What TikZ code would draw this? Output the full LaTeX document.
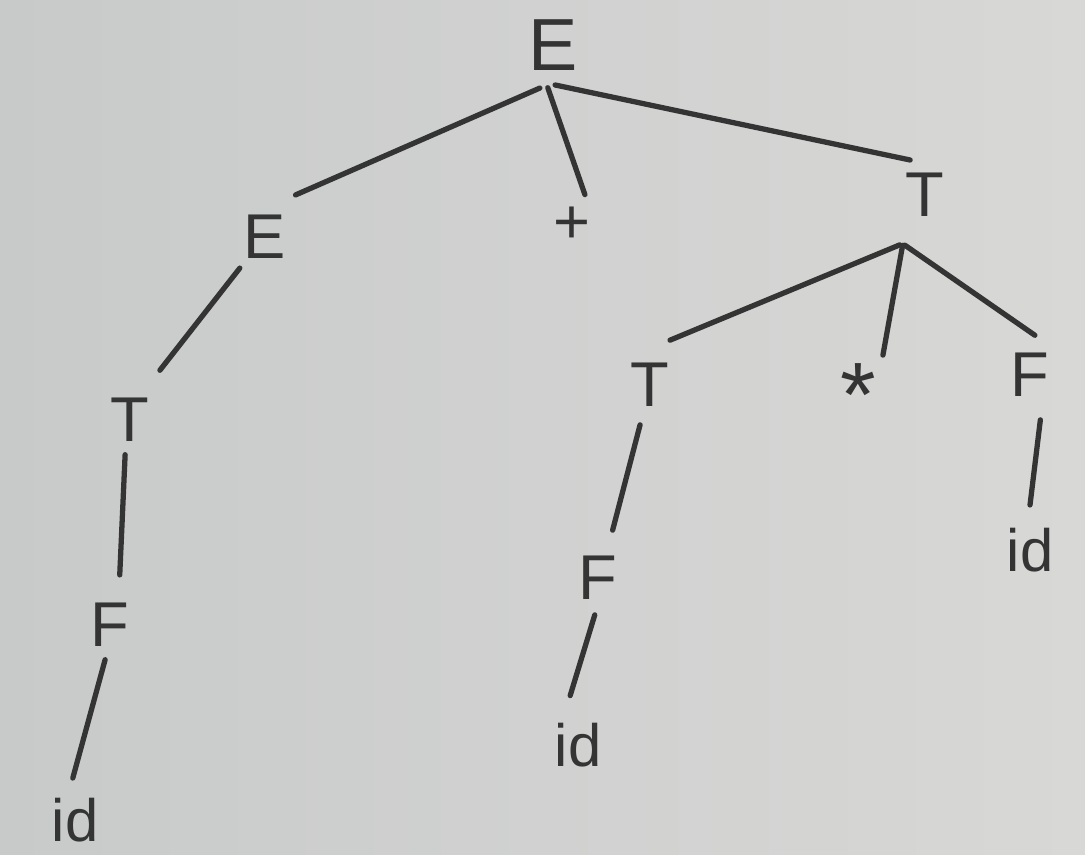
\documentclass[tikz,border=0pt]{standalone}
\usepackage{fontspec}
\setmainfont{Liberation Sans}
\usetikzlibrary{calc}
\definecolor{ink}{RGB}{52,52,52}
\definecolor{paperL}{RGB}{200,202,202}
\definecolor{paperR}{RGB}{216,216,214}
\begin{document}
\begin{tikzpicture}[x=0.01cm,y=-0.01cm,
  sym/.style={inner sep=0pt,text=ink,font=\fontsize{18}{20}\selectfont},
  leaf/.style={inner sep=0pt,text=ink,font=\fontsize{17}{20}\selectfont},
  edge/.style={draw=ink,line width=1.5pt,line cap=round}]
\fill[left color=paperL,right color=paperR] (0,0) rectangle (1085,854);
\useasboundingbox (0,0) rectangle (1085,854);
% nodes
\node[sym,font=\fontsize{21}{24}\selectfont] (rootE) at (553,45) {E};
\node[sym] (leftE) at (265,237) {E};
\node[sym] (plus) at (572,225) {+};
\node[sym] (rightT) at (925,195) {T};
\node[sym] (lT) at (130,420) {T};
\node[sym] (lF) at (110,625) {F};
\node[leaf] (lid) at (75,820) {id};
\node[sym] (mT) at (650,385) {T};
\node[sym,font=\fontsize{26}{28}\selectfont] (star) at (858,395) {*};
\node[sym] (rF) at (1030,375) {F};
\node[sym] (mF) at (598,578) {F};
\node[leaf] (mid) at (578,745) {id};
\node[leaf] (rid) at (1030,550) {id};
% edges
\draw[edge] ($(rootE)+(-107:0.45cm)$) -- ($(leftE)+(54:0.52cm)$);
\draw[edge] ($(rootE)+(-97:0.43cm)$) -- ($(plus)+(67:0.33cm)$);
\draw[edge] ($(rootE)+(-87:0.40cm)$) -- ($(rightT)+(113:0.38cm)$);
\draw[edge] ($(leftE)+(-129:0.40cm)$) -- ($(lT)+(59:0.58cm)$);
\draw[edge] ($(lT)+(-98:0.35cm)$) -- ($(lF)+(79:0.51cm)$);
\draw[edge] ($(lF)+(-98:0.35cm)$) -- ($(lid)+(93:0.42cm)$);
\draw[edge] ($(rightT)+(-117:0.56cm)$) -- ($(mT)+(66:0.49cm)$);
\draw[edge] ($(rightT)+(-114:0.55cm)$) -- ($(star)+(58:0.47cm)$);
\draw[edge] ($(rightT)+(-112:0.54cm)$) -- ($(rF)+(83:0.40cm)$);
\draw[edge] ($(mT)+(-104:0.41cm)$) -- ($(mF)+(73:0.50cm)$);
\draw[edge] ($(mF)+(-95:0.37cm)$) -- ($(mid)+(99:0.50cm)$);
\draw[edge] ($(rF)+(-77:0.46cm)$) -- ($(rid)+(90:0.45cm)$);
\end{tikzpicture}
\end{document}
